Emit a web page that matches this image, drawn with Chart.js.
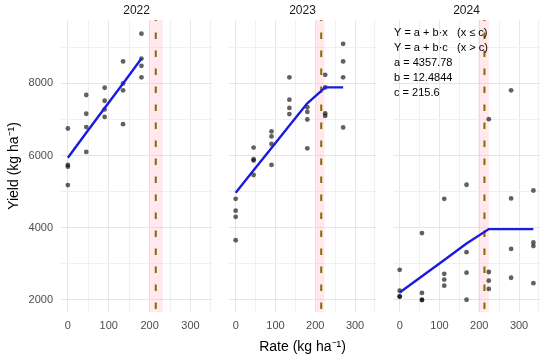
<!DOCTYPE html>
<html>
<head>
<meta charset="utf-8">
<script src="https://cdn.jsdelivr.net/npm/chart.js@4.4.1/dist/chart.umd.min.js"></script>
<style>
  html, body { margin: 0; padding: 0; background: #fff; }
  #wrap { position: relative; width: 550px; height: 358px; overflow: hidden; background: #fff; }
  #wrap canvas { position: absolute; top: 0; }
</style>
</head>
<body>
<div id="wrap">
  <canvas id="c2022" width="218" height="358" style="left:0px"></canvas>
  <canvas id="c2023" width="157" height="358" style="left:225px"></canvas>
  <canvas id="c2024" width="157" height="358" style="left:389px"></canvas>
</div>
<script>
    var years = ["2022", "2023", "2024"];

    // observed yields (kg/ha) by N rate (kg/ha)
    var rate2022 = [0, 0, 0, 0, 45, 45, 45, 45, 90, 90, 90, 90, 135, 135, 135, 135, 180, 180, 180, 180];
    var yield2022 = [6750, 5740, 5690, 5180, 7680, 7160, 6790, 6100, 7880, 7520, 7280, 7070, 8610, 8000, 7810, 6870, 9380, 8690, 8490, 8170];

    var rate2023 = [0, 0, 0, 0, 45, 45, 45, 45, 90, 90, 90, 90, 135, 135, 135, 135, 180, 180, 180, 180, 225, 225, 225, 225, 270, 270, 270, 270];
    var yield2023 = [4800, 4470, 4300, 3650, 6220, 5900, 5860, 5460, 6670, 6530, 6320, 5740, 8170, 7550, 7320, 7150, 7340, 7210, 7000, 6200, 8240, 7890, 7170, 7100, 9100, 8610, 8170, 6780];

    var rate2024 = [0, 0, 0, 0, 56, 56, 56, 56, 112, 112, 112, 112, 168, 168, 168, 168, 224, 224, 224, 224, 280, 280, 280, 280, 336, 336, 336, 336];
    var yield2024 = [2830, 2250, 2100, 2080, 3850, 2190, 2000, 1990, 4800, 2720, 2560, 2390, 5190, 3320, 2750, 2000, 7010, 2770, 2530, 2300, 7810, 4810, 3410, 2610, 5030, 3590, 3490, 2460];

    // fitted linear-plateau values
    var fitRate2022 = [0, 45, 90, 135, 180];
    var fitYield2022 = [5940, 6630, 7320, 8000, 8690];
    var fitRate2023 = [0, 45, 90, 135, 180, 225, 270];
    var fitYield2023 = [4970, 5590, 6210, 6830, 7450, 7890, 7890];
    var fitRate2024 = [0, 56, 112, 168, 224, 280, 336];
    var fitYield2024 = [2200, 2650, 3100, 3560, 3960, 3960, 3960];

    // breakpoint c and its interval per year
    var breakC = [215, 215, 213];
    var breakLo = [199, 201, 198];
    var breakHi = [232, 223, 224];

    // grid breaks and labelled ticks
    var xGrid = [0, 50, 100, 150, 200, 250, 300, 350];
    var yGrid = [2000, 3000, 4000, 5000, 6000, 7000, 8000, 9000];
    var xTickLabels = [0, 100, 200, 300];
    var yTickLabels = [2000, 4000, 6000, 8000];

    var eqnLines = [
        "Y = a + b\u00b7x   (x \u2264 c)",
        "Y = a + b\u00b7c   (x > c)",
        "a = 4357.78",
        "b = 12.4844",
        "c = 215.6"
    ];

    var FONT = "'Liberation Sans', Arial, Helvetica, sans-serif";
    Chart.defaults.font.family = FONT;

    var breakPlugin = {
        id: 'breakpoint',
        beforeDatasetsDraw: function(chart, args, opts) {
            var ctx = chart.ctx, a = chart.chartArea, xs = chart.scales.x;
            var l = xs.getPixelForValue(opts.lo), r = xs.getPixelForValue(opts.hi);
            var c = xs.getPixelForValue(opts.c);
            ctx.save();
            ctx.fillStyle = 'rgba(255,182,193,0.3)';
            ctx.fillRect(l, a.top, r - l, a.bottom - a.top);
            ctx.strokeStyle = '#8B6508';
            ctx.lineWidth = 2;
            ctx.setLineDash([6.5, 11.5]);
            ctx.lineDashOffset = 5.5;
            ctx.beginPath();
            ctx.moveTo(c, a.top);
            ctx.lineTo(c, a.bottom);
            ctx.stroke();
            ctx.restore();
        }
    };

    var eqnPlugin = {
        id: 'eqnText',
        afterDatasetsDraw: function(chart, args, opts) {
            if (!opts.lines) return;
            var ctx = chart.ctx, a = chart.chartArea;
            ctx.save();
            ctx.font = '11px ' + FONT;
            ctx.fillStyle = '#000';
            ctx.textBaseline = 'middle';
            ctx.textAlign = 'left';
            opts.lines.forEach(function(t, i) {
                ctx.fillText(t, a.left + 1, a.top + 12.7 + i * 15);
            });
            ctx.restore();
        }
    };

    function gridColor(ctx, labels) {
        return ctx.tick && labels.indexOf(ctx.tick.value) >= 0 ? '#e6e6e6' : '#f0f0f0';
    }

    function makePanel(k, rates, yields, fitX, fitY) {
        var first = k === 0, middle = k === 1, last = k === 2;
        var pts = rates.map(function(r, i) { return {x: r, y: yields[i]}; });
        var fit = fitX.map(function(r, i) { return {x: r, y: fitY[i]}; });

        return new Chart("c" + years[k], {
            type: 'scatter',
            data: {
                datasets: [{
                    type: 'line',
                    data: fit,
                    borderColor: '#1a1ae0',
                    borderWidth: 2.4,
                    pointRadius: 0,
                    fill: false,
                    tension: 0
                }, {
                    data: pts,
                    backgroundColor: 'rgba(0,0,0,0.62)',
                    borderWidth: 0,
                    pointRadius: 2.4
                }]
            },
            options: {
                responsive: false,
                animation: false,
                events: [],
                layout: { padding: 0 },
                plugins: {
                    legend: { display: false },
                    tooltip: { enabled: false },
                    title: {
                        display: true,
                        text: years[k],
                        fullSize: false,
                        color: '#1a1a1a',
                        font: { size: 12, weight: 'normal' },
                        padding: { top: 3, bottom: 2.6 }
                    },
                    breakpoint: { c: breakC[k], lo: breakLo[k], hi: breakHi[k] },
                    eqnText: { lines: last ? eqnLines : null }
                },
                scales: {
                    x: {
                        type: 'linear',
                        min: -16.8,
                        max: 352.8,
                        afterBuildTicks: function(s) { s.ticks = xGrid.map(function(v) { return {value: v}; }); },
                        afterFit: function(s) { s.height = 46; },
                        border: { display: false },
                        grid: {
                            drawTicks: false,
                            color: function(c) { return gridColor(c, xTickLabels); }
                        },
                        ticks: {
                            autoSkip: false,
                            maxRotation: 0,
                            minRotation: 0,
                            padding: 7,
                            color: '#4d4d4d',
                            font: { size: 11 },
                            callback: function(v) { return xTickLabels.indexOf(v) >= 0 ? String(v) : ''; }
                        },
                        title: {
                            display: middle,
                            text: 'Rate (kg ha\u207b\u00b9)',
                            color: '#000',
                            font: { size: 14 },
                            padding: { top: 0, bottom: 2 }
                        }
                    },
                    y: {
                        min: 1660,
                        max: 9760,
                        afterBuildTicks: function(s) { s.ticks = yGrid.map(function(v) { return {value: v}; }); },
                        afterFit: function(s) { s.width = first ? 61 : 0; },
                        border: { display: false },
                        grid: {
                            drawTicks: false,
                            color: function(c) { return gridColor(c, yTickLabels); }
                        },
                        ticks: {
                            display: first,
                            autoSkip: false,
                            padding: 8,
                            color: '#4d4d4d',
                            font: { size: 11 },
                            callback: function(v) { return yTickLabels.indexOf(v) >= 0 ? String(v) : ''; }
                        },
                        title: {
                            display: first,
                            text: 'Yield (kg ha\u207b\u00b9)',
                            color: '#000',
                            font: { size: 14 },
                            padding: { top: 6, bottom: 0 }
                        }
                    }
                }
            },
            plugins: [breakPlugin, eqnPlugin]
        });
    }

    makePanel(0, rate2022, yield2022, fitRate2022, fitYield2022);
    makePanel(1, rate2023, yield2023, fitRate2023, fitYield2023);
    makePanel(2, rate2024, yield2024, fitRate2024, fitYield2024);
</script>
</body>
</html>
